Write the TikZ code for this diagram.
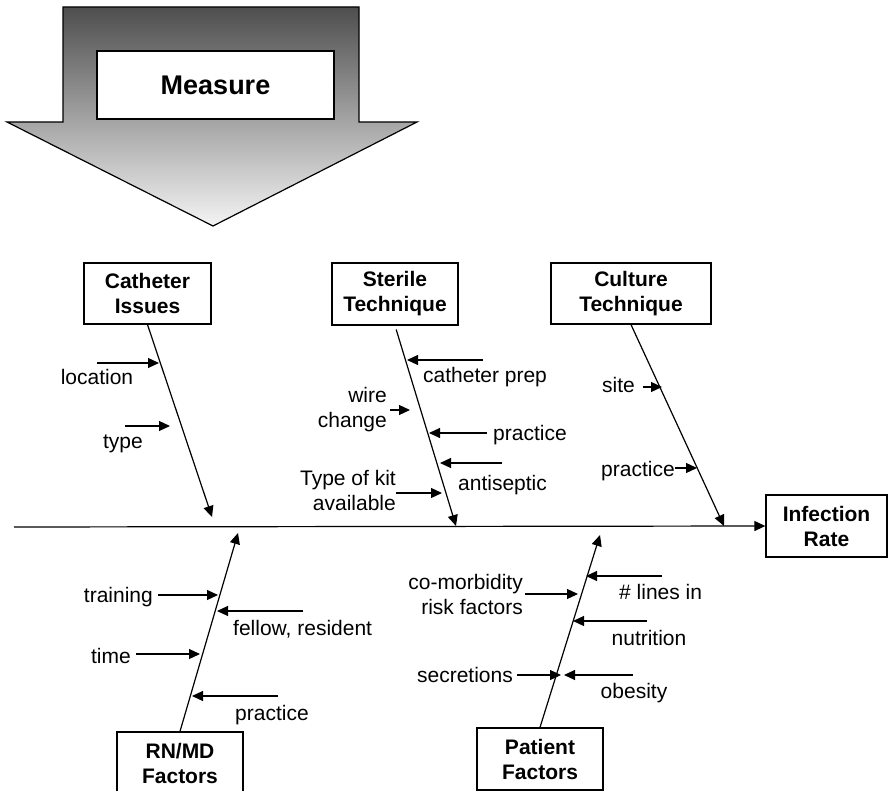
\documentclass[tikz,border=0pt]{standalone}
\usepackage{fontspec}
\setmainfont{Liberation Sans}
\usetikzlibrary{arrows.meta}
\definecolor{arrowtop}{RGB}{78,78,78}
\definecolor{arrowbot}{RGB}{244,244,244}
\begin{document}
\begin{tikzpicture}[x=1pt,y=-1pt,
  lbl/.style={inner sep=0pt, font=\fontsize{21}{25}\selectfont},
  cause/.style={draw, line width=1.3pt, fill=white, align=center, inner sep=0pt,
    font=\fontsize{21}{25}\selectfont\bfseries},
  tip/.style={-{Triangle[length=11pt,width=10pt]}},
  bone/.style={tip, line width=1.2pt},
  rib/.style={tip, line width=1.2pt},
]
\useasboundingbox (0,0) rectangle (889,791);
\clip (0,0) rectangle (889,791);

% big shaded "Measure" arrow
\shade[top color=arrowtop, bottom color=arrowbot, draw=black, line width=1.2pt]
  (63,7) -- (359,7) -- (359,122) -- (417,122) -- (213,226) -- (7,122) -- (63,122) -- cycle;
\node[draw, line width=1.3pt, fill=white, minimum width=237pt, minimum height=68pt,
  inner sep=0pt, font=\fontsize{27}{30}\selectfont\bfseries] (measure) at (215.5,85) {Measure};

% cause boxes and effect box
\node[cause, minimum width=127pt, minimum height=61pt] (cat)  at (147.5,293.5) {Catheter\\Issues};
\node[cause, minimum width=126pt, minimum height=62pt] (ster) at (395,294) {Sterile\\Technique};
\node[cause, minimum width=160pt, minimum height=61pt] (cult) at (631,293.5) {Culture\\Technique};
\node[cause, minimum width=121pt, minimum height=62pt] (eff)  at (826.5,526) {Infection\\Rate};
\node[cause, minimum width=126pt, minimum height=62pt] (rn)   at (180,763) {RN/MD\\Factors};
\node[cause, minimum width=126pt, minimum height=62pt] (pat)  at (540,759) {Patient\\Factors};

% spine
\coordinate (spine) at (14,527);
\draw[bone] (spine) -- (eff.west);

% main bones
\coordinate (catTip)  at (212,517);
\coordinate (sterTip) at (456,526);
\coordinate (cultTip) at (724,526);
\coordinate (rnTip)   at (238,533);
\coordinate (patTip)  at (600,535);
\draw[bone] (cat.south) -- (catTip);
\draw[bone, shorten <=4pt] (ster.south) -- (sterTip);
\draw[bone] (cult.south) -- (cultTip);
\draw[bone] (rn.north) -- (rnTip);
\draw[bone] (pat.north) -- (patTip);

% ribs: catheter issues
\coordinate (c1a) at (97,363);  \coordinate (c1b) at (159,363);
\coordinate (c2a) at (125,426); \coordinate (c2b) at (170,426);
\draw[rib] (c1a) -- (c1b);
\draw[rib] (c2a) -- (c2b);
\node[lbl, anchor=base] (location) at (97,385) {location};
\node[lbl, anchor=base] (type) at (123,449) {type};

% ribs: sterile technique
\coordinate (s1a) at (483,360); \coordinate (s1b) at (407,360);
\coordinate (s2a) at (390,410); \coordinate (s2b) at (410,410);
\coordinate (s3a) at (487,433); \coordinate (s3b) at (429,433);
\coordinate (s4a) at (502,463); \coordinate (s4b) at (440,463);
\coordinate (s5a) at (396,493); \coordinate (s5b) at (442,493);
\draw[rib] (s1a) -- (s1b);
\draw[rib] (s2a) -- (s2b);
\draw[rib] (s3a) -- (s3b);
\draw[rib] (s4a) -- (s4b);
\draw[rib] (s5a) -- (s5b);
\node[lbl, anchor=base west] (prep) at (423,383) {catheter prep};
\node[lbl, anchor=east, align=right] (wire) at (387,410) {wire\\change};
\node[lbl, anchor=base west] (spractice) at (493,440) {practice};
\node[lbl, anchor=base west] (antiseptic) at (458,490) {antiseptic};
\node[lbl, anchor=east, align=right] (kit) at (396,490) {Type of kit\\available};

% ribs: culture technique
\coordinate (u1a) at (643,387); \coordinate (u1b) at (662,387);
\coordinate (u2a) at (675,468); \coordinate (u2b) at (697,468);
\draw[rib] (u1a) -- (u1b);
\draw[rib] (u2a) -- (u2b);
\node[lbl, anchor=base west] (site) at (602,393) {site};
\node[lbl, anchor=base west] (upractice) at (601,476) {practice};

% ribs: RN/MD factors
\coordinate (r1a) at (158,595); \coordinate (r1b) at (218,595);
\coordinate (r2a) at (303,611); \coordinate (r2b) at (217,611);
\coordinate (r3a) at (136,654); \coordinate (r3b) at (200,654);
\coordinate (r4a) at (278,696); \coordinate (r4b) at (192,696);
\draw[rib] (r1a) -- (r1b);
\draw[rib] (r2a) -- (r2b);
\draw[rib] (r3a) -- (r3b);
\draw[rib] (r4a) -- (r4b);
\node[lbl, anchor=base east] (training) at (153,602) {training};
\node[lbl, anchor=base west] (fellow) at (233,635) {fellow, resident};
\node[lbl, anchor=base east] (time) at (131,663) {time};
\node[lbl, anchor=base west] (rpractice) at (235,720) {practice};

% ribs: patient factors
\coordinate (p1a) at (525,594); \coordinate (p1b) at (578,594);
\coordinate (p2a) at (662,576); \coordinate (p2b) at (586,576);
\coordinate (p3a) at (647,621); \coordinate (p3b) at (573,621);
\coordinate (p4a) at (517,675); \coordinate (p4b) at (561,675);
\coordinate (p5a) at (633,675); \coordinate (p5b) at (564,675);
\draw[rib] (p1a) -- (p1b);
\draw[rib] (p2a) -- (p2b);
\draw[rib] (p3a) -- (p3b);
\draw[rib] (p4a) -- (p4b);
\draw[rib] (p5a) -- (p5b);
\node[lbl, anchor=east, align=right] (comorb) at (523,594) {co-morbidity\\risk factors};
\node[lbl, anchor=base west] (lines) at (619,599) {\# lines in};
\node[lbl, anchor=base] (nutrition) at (649,645) {nutrition};
\node[lbl, anchor=base east] (secretions) at (513,682) {secretions};
\node[lbl, anchor=base] (obesity) at (634,698) {obesity};
\end{tikzpicture}
\end{document}
